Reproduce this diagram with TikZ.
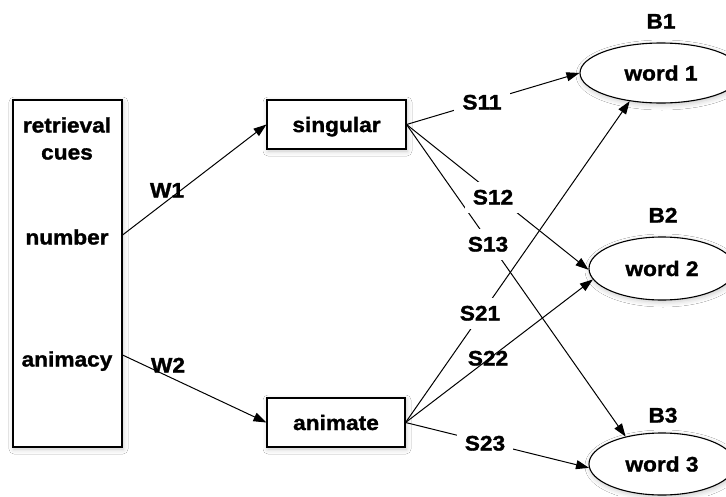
\documentclass[tikz,border=0pt]{standalone}
\usepackage{fontspec}
\setmainfont{Liberation Sans}[FakeStretch=1.08, BoldFeatures={FakeBold=1.4}]
\usetikzlibrary{arrows.meta,shapes.geometric,shadows.blur}
\begin{document}
\begin{tikzpicture}[x=1pt,y=-1pt,
  every node/.style={font=\fontsize{21}{27}\selectfont\bfseries, inner sep=0pt, text height=15pt, text depth=0pt},
  shadowed/.style={blur shadow={shadow xshift=1pt, shadow yshift=-2pt, shadow blur radius=5pt, shadow opacity=22}},
  box/.style={draw, line width=1.1pt, fill=white, shadowed},
  word/.style={draw, ellipse, line width=1.1pt, fill=white, shadowed},
  link/.style={line width=1pt, -{Triangle[length=13pt,width=9pt]}},
  gaplabel/.style={fill=white, inner xsep=8pt, inner ysep=8pt},
]
\clip (0,0) rectangle (726,496);
\fill[white] (0,0) rectangle (726,496);

% left cue box
\node[box, minimum width=109pt, minimum height=347pt] (cues) at (67.5,273.5) {};
\node (ret) at (67,125) {retrieval};
\node (cue) at (67,152) {cues};
\node (num) at (67,237) {number};
\node (ani) at (67,359) {animacy};

% feature boxes
\node[box, minimum width=139pt, minimum height=49pt] (sing) at (336.5,124.5) {singular};
\node[box, minimum width=138pt, minimum height=49pt] (anim) at (336,422.5) {animate};

% words
\node[word, minimum width=162pt, minimum height=60pt] (w1) at (661,73) {word 1};
\node[word, minimum width=146pt, minimum height=63pt] (w2) at (662,268.5) {word 2};
\node[word, minimum width=146pt, minimum height=62pt] (w3) at (662,464) {word 3};
\node (b1) at (661,21) {B1};
\node (b2) at (663,215) {B2};
\node (b3) at (663,415) {B3};

% connectors
\draw[link] ([yshift=2pt]cues.east |- num) -- (sing.west);
\draw[link] ([yshift=4pt]cues.east |- ani) -- (anim.west);
\draw[link] (sing.east) -- (w1.west);
\draw[link] (sing.east) -- (w2.181);
\draw[link] (sing.east) -- (w3.143);
\draw[link] (anim.east) -- (w1.222);
\draw[link] (anim.east) -- (w2.189);
\draw[link] (anim.east) -- (w3.183);

% weights
\node (lw1) at (167,190) {W1};
\node (lw2) at (168,365) {W2};
\node[gaplabel] (s11) at (482,102) {S11};
\node[gaplabel] (s12) at (493,197) {S12};
\node[gaplabel] (s13) at (488,244) {S13};
\node[gaplabel] (s21) at (480,313) {S21};
\node (s22) at (488,358) {S22};
\node[gaplabel] (s23) at (485,443) {S23};
\end{tikzpicture}
\end{document}
